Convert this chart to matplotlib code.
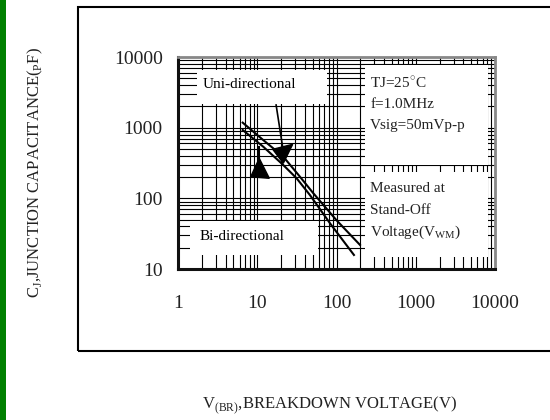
import matplotlib
matplotlib.use('Agg')
import matplotlib.pyplot as plt
from matplotlib.patches import Rectangle, Polygon
from matplotlib.ticker import LogLocator, NullFormatter, FixedLocator

# Set font.
plt.rcParams['font.family'] = ['Liberation Serif', 'DejaVu Serif']
plt.rcParams['mathtext.fontset'] = 'custom'
plt.rcParams['mathtext.rm'] = 'Liberation Serif'

# Curves (V, pF).
voltUpper = [6.55, 11.9, 21.3, 34.6, 51, 100, 198]
capUpper  = [1178, 668, 389, 202, 118, 49, 21.9]
voltLower = [6.55, 11.9, 21.3, 31.4, 46.3, 82.8, 166]
capLower  = [927, 538, 296, 192, 111, 44.3, 15.8]

xTicks = [1, 10, 100, 1000, 10000]
yTicks = [10, 100, 1000, 10000]

condText = ['TJ=25$^{\\circ}$C', 'f=1.0MHz', 'Vsig=50mVp-p']
measText = ['Measured at', 'Stand-Off', 'Voltage(V$_{\\mathrm{WM}}$)']

# Set font size.
tickSize = 14
textSize = 11
labelSize = 12

fig = plt.figure(figsize=(5.5, 4.2), dpi=100)
fig.patch.set_facecolor('white')

# Green bar and outer frame.
fig.add_artist(Rectangle((0, 0), 6/550, 1, transform=fig.transFigure,
    facecolor='#008000', edgecolor='none'))
fig.add_artist(Rectangle((78/550, 1-351/420), 1.0, (351-7)/420,
    transform=fig.transFigure, facecolor='none', edgecolor='black', lw=1.5))

ax = fig.add_axes([178/550, 1-269/420, 317/550, 212/420])
ax.set_xscale('log')
ax.set_yscale('log')
ax.set_xlim(1, 10000)
ax.set_ylim(10, 10000)

ax.xaxis.set_major_locator(FixedLocator(xTicks))
ax.yaxis.set_major_locator(FixedLocator(yTicks))
ax.xaxis.set_minor_locator(LogLocator(base=10, subs=range(2, 10)))
ax.yaxis.set_minor_locator(LogLocator(base=10, subs=range(2, 10)))
ax.xaxis.set_minor_formatter(NullFormatter())
ax.yaxis.set_minor_formatter(NullFormatter())
ax.set_xticklabels([str(t) for t in xTicks])
ax.set_yticklabels([str(t) for t in yTicks])
ax.tick_params(which='both', length=0, labelsize=tickSize, colors='#222222')
ax.tick_params(axis='x', pad=19)
ax.tick_params(axis='y', pad=11)

ax.grid(which='both', color='black', lw=0.8, zorder=0)
ax.set_axisbelow(True)
for side in ['left', 'bottom']:
    ax.spines[side].set_linewidth(2.2)
    ax.spines[side].set_color('#111111')
for side in ['top', 'right']:
    ax.spines[side].set_linewidth(2.0)
    ax.spines[side].set_color('#888888')

# White boxes that hide the grid behind the notes.
boxes = [(0.060, 0.778, 0.410, 0.161),
         (0.038, 0.066, 0.404, 0.160),
         (0.590, 0.491, 0.388, 0.471),
         (0.590, 0.057, 0.388, 0.401)]
for (bx, by, bw, bh) in boxes:
    ax.add_patch(Rectangle((bx, by), bw, bh, transform=ax.transAxes,
        facecolor='white', edgecolor='none', zorder=1))

ax.text(0.079, 0.868, 'Uni-directional', transform=ax.transAxes,
    fontsize=textSize, va='center', zorder=2)
ax.text(0.069, 0.151, 'Bi-directional', transform=ax.transAxes,
    fontsize=textSize, va='center', zorder=2)
for (i, s) in enumerate(condText):
    ax.text(0.606, [0.877, 0.774, 0.679][i], s, transform=ax.transAxes,
        fontsize=textSize, va='center', zorder=2, color='#222222')
for (i, s) in enumerate(measText):
    ax.text(0.606, [0.382, 0.278, 0.175][i], s, transform=ax.transAxes,
        fontsize=textSize, va='center', zorder=2, color='#222222')

# Characteristic curves.
ax.plot(voltUpper, capUpper, color='black', lw=1.5, zorder=3)
ax.plot(voltLower, capLower, color='black', lw=1.5, zorder=3)

# Pointers.
ax.plot([17.3, 20.9], [2094, 535], color='black', lw=1.2, zorder=3)
ax.add_patch(Polygon([(15.7, 494), (28.0, 582), (21.3, 313)],
    closed=True, facecolor='black', edgecolor='black', zorder=3))
ax.plot([10.6, 10.6], [532, 368], color='black', lw=1.5, zorder=3)
ax.add_patch(Polygon([(10.6, 368), (8.27, 202), (14.2, 192)],
    closed=True, facecolor='black', edgecolor='black', zorder=3))

fig.text(35/550, 1-172/420,
    'C$_{\\mathrm{J}}$,JUNCTION CAPACITANCE($_{\\mathrm{P}}$F)',
    rotation=90, ha='center', va='center', fontsize=labelSize, color='#222222')
fig.text(330/550, 1-405/420,
    'V$_{\\mathrm{(BR)}}$,BREAKDOWN VOLTAGE(V)',
    ha='center', va='center', fontsize=labelSize, color='#222222')

fig.savefig('out.png', dpi=100)
